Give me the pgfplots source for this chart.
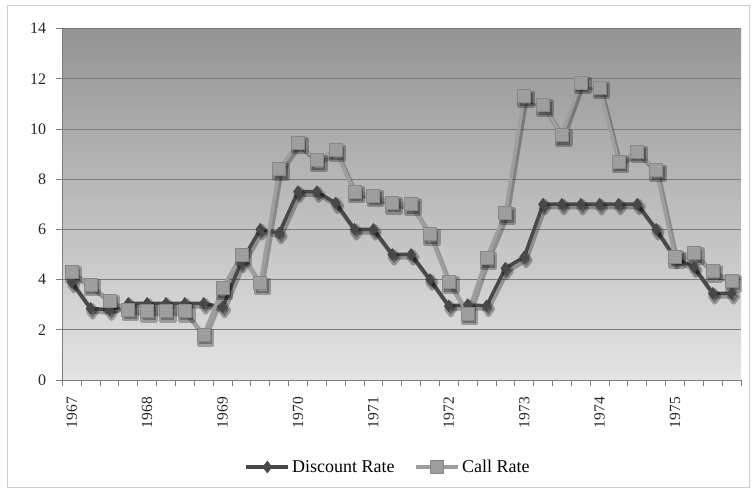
\documentclass[border=0pt]{standalone}
\usepackage{pgfplots}
\usepackage{pgfplotstable}
\pgfplotsset{compat=1.18}
\usepackage{fontspec}
\setmainfont{Liberation Serif}
\definecolor{bgtop}{RGB}{148,148,148}
\definecolor{bgbot}{RGB}{228,228,228}
\definecolor{disc}{RGB}{72,72,72}
\definecolor{callc}{RGB}{158,158,158}
\definecolor{callb}{RGB}{135,135,135}
\definecolor{gridc}{RGB}{125,125,125}
\definecolor{framec}{RGB}{205,205,205}

\pgfplotstableread{
x d c
0 3.90 4.30
1 2.85 3.80
2 2.80 3.15
3 3.05 2.80
4 3.05 2.75
5 3.05 2.75
6 3.05 2.75
7 3.05 1.80
8 2.90 3.65
9 4.70 5.00
10 6.00 3.85
11 5.85 8.40
12 7.50 9.45
13 7.50 8.75
14 7.05 9.15
15 6.00 7.50
16 6.00 7.35
17 5.00 7.05
18 5.00 7.00
19 4.00 5.80
20 2.95 3.90
21 3.00 2.65
22 2.95 4.85
23 4.45 6.65
24 4.90 11.30
25 7.00 10.95
26 7.00 9.75
27 7.00 11.85
28 7.00 11.65
29 7.00 8.70
30 7.00 9.10
31 6.00 8.35
32 4.85 4.90
33 4.50 5.05
34 3.45 4.35
35 3.45 3.95
}\rates

\begin{document}
\begin{tikzpicture}[x=1pt,y=1pt]
\path[fill=white] (0,0) rectangle (753,493);
\draw[framec, line width=1pt] (7.5,5.5) rectangle (749.5,487);
\begin{axis}[
  at={(62.3pt,113pt)}, anchor=south west,
  scale only axis, width=678.7pt, height=351.5pt,
  xmin=-0.5, xmax=35.5, ymin=0, ymax=14,
  axis x line*=bottom, axis y line*=left,
  axis line style={gridc, line width=0.8pt, -},
  axis background/.style={top color=bgtop, bottom color=bgbot},
  ytick={0,2,...,14},
  ymajorgrids, grid style={gridc, line width=0.8pt},
  xtick={-0.5,0.5,...,35.5}, xticklabels={},
  extra x ticks={0,4,...,32},
  extra x tick labels={1967,1968,1969,1970,1971,1972,1973,1974,1975},
  extra x tick style={major tick length=0pt, xticklabel style={rotate=90, anchor=east, inner sep=0pt, font=\fontsize{15.5}{18}\selectfont, text=black!85}},
  xticklabel shift=17pt,
  tick align=outside, major tick length=6pt,
  tick style={gridc, line width=0.8pt},
  yticklabel style={inner sep=0pt, font=\fontsize{16}{18}\selectfont, text=black!85},
  yticklabel shift=10pt,
  /pgf/number format/assume math mode=true,
  legend style={at={(0.480,-0.2475)}, anchor=center, draw=none, fill=none,
    legend columns=2, font=\fontsize{18}{20}\selectfont,
    /tikz/every even column/.append style={column sep=18pt},
    /tikz/every odd column/.append style={}, inner sep=1pt},
  legend cell align=left,
  legend image code/.code={\draw[#1, mark repeat=2, mark phase=2] plot coordinates {(0pt,0pt) (21pt,0pt) (42pt,0pt)};},
]
% shadows
\addplot[forget plot, black, opacity=0.28, line width=4.5pt, line join=round, mark=diamond*, mark size=6pt, xshift=2pt, yshift=-3pt] table[x=x, y=d] {\rates};
\addplot[forget plot, black, opacity=0.28, line width=4.5pt, line join=round, mark=square*, mark size=6.5pt, xshift=2pt, yshift=-3pt] table[x=x, y=c] {\rates};
% series
\addplot[disc, line width=3.5pt, line join=round, mark=diamond*, mark size=6pt, mark options={solid, fill=disc, draw=disc, line width=0.5pt}] table[x=x, y=d] {\rates};
\addlegendentry{Discount Rate}
\addplot[callc, line width=3.5pt, line join=round, mark=square*, mark size=6.5pt, mark options={solid, fill=callc, draw=callb, line width=0.8pt}] table[x=x, y=c] {\rates};
\addlegendentry{Call Rate}
\end{axis}
\end{tikzpicture}
\end{document}
